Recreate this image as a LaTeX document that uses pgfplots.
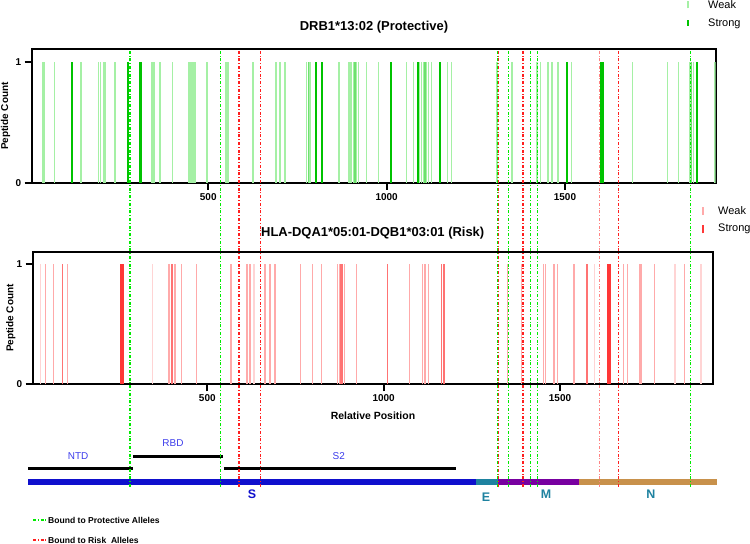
\documentclass[border=0pt]{standalone}
\usepackage{fontspec}
\setmainfont{Liberation Sans}
\usepackage{pgfplots}
\pgfplotsset{compat=1.18}
\definecolor{gweak}{RGB}{165,240,165}
\definecolor{gmid}{RGB}{110,225,110}
\definecolor{gstrong}{RGB}{0,195,0}
\definecolor{rfaint}{RGB}{255,212,212}
\definecolor{rweak}{RGB}{255,170,170}
\definecolor{rmid}{RGB}{255,115,115}
\definecolor{rstrong}{RGB}{255,55,55}
\definecolor{dashgreen}{RGB}{0,235,0}
\definecolor{dashred}{RGB}{255,30,30}
\definecolor{sblue}{RGB}{15,15,205}
\definecolor{eteal}{RGB}{30,130,160}
\definecolor{mpurple}{RGB}{120,0,160}
\definecolor{ntan}{RGB}{200,145,75}
\definecolor{lblblue}{RGB}{60,60,235}
\tikzset{
  pdash/.style={dashgreen, line width=1.5bp, dash pattern=on 3bp off 1.8bp on 1bp off 1.8bp},
  rdash/.style={dashred, line width=1.5bp, dash pattern=on 3bp off 1.8bp on 1bp off 1.8bp}
}
\pgfplotsset{
  panel/.style={scale only axis, anchor=south west, ymin=0,
    xtick={500,1000,1500}, ytick={0,1}, tick pos=left, tick align=outside,
    major tick length=7bp, tick style={black, line width=2bp},
    axis line style={line width=1.8bp},
    ticklabel style={font=\bfseries\fontsize{10}{12}\selectfont},
    /pgf/number format/assume math mode=true, /pgf/number format/1000 sep={},
    ylabel={Peptide Count},
    ylabel style={font=\bfseries\fontsize{10}{12}\selectfont, anchor=center},
    title style={font=\bfseries\fontsize{13}{15}\selectfont, anchor=center}}
}
\begin{document}
\begin{tikzpicture}
\useasboundingbox (0bp,0bp) rectangle (750bp,544bp);
% ---------------- top panel
\begin{axis}[panel, at={(31.7bp,361bp)}, width=684bp, height=133.7bp,
  xmin=5, xmax=1922.6, ymax=1.105,
  title={DRB1*13:02 (Protective)},
  title style={at={(axis description cs:0.5004,1.12)}},
  ylabel style={at={(axis description cs:-0.0383,0.5)}}]
\addplot[ycomb, gweak, line width=1.5bp] coordinates {
(35,1)(39,1)(68.5,1)(142,1)(145,1)(192,1)(198,1)(206,1)(211,1)(239,1)(274,1)
(341,1)(344,1)(348,1)(365,1)(400,1)(444,1)(449,1)(454,1)(458,1)(463,1)(496,1)
(550,1)(556,1)(626,1)(690,1)(701,1)(715,1)(776,1)(785,1)(867,1)(893,1)(897,1)
(902,1)(907,1)(916,1)(921,1)(944,1)(977,1)(1056,1)(1075,1)(1092,1)(1098,1)
(1105,1)(1112,1)(1117,1)(1126,1)(1171,1)(1182,1)(1309,1)(1351,1)(1422,1)
(1432,1)(1453,1)(1463,1)(1480,1)(1519,1)(1689,1)(1788,1)(1818,1)(1851,1)
(1860,1)(1921,1)};
\addplot[ycomb, gmid, line width=1.5bp] coordinates {
(781,1)(911,1)(1108,1)(1855,1)};
\addplot[ycomb, gstrong, line width=2bp] coordinates {
(118,1)(276,1)(309,1)(312,1)(802,1)(818,1)(1012,1)(1087,1)(1150,1)(1507,1)
(1600,1)(1603,1)(1606,1)(1871,1)};
\end{axis}
% ---------------- bottom panel
\begin{axis}[panel, at={(32.7bp,159.7bp)}, width=680.6bp, height=132.6bp,
  xmin=5, xmax=1934.6, ymax=1.102,
  title={HLA-DQA1*05:01-DQB1*03:01 (Risk)},
  title style={at={(axis description cs:0.4996,1.097)}},
  ylabel style={at={(axis description cs:-0.032,0.5)}},
  xlabel={Relative Position},
  xlabel style={font=\bfseries\fontsize{10.5}{12}\selectfont, at={(axis description cs:0.5,-0.239)}, anchor=center}]
\addplot[ycomb, rfaint, line width=1.5bp] coordinates {
(27.6,1)(345.2,1)(632.5,1)(1597.3,1)(1826,1)(1899.7,1)};
\addplot[ycomb, rweak, line width=1.5bp] coordinates {
(41.8,1)(64.5,1)(104.2,1)(391.4,1)(408.4,1)(427.4,1)(470,1)(567.3,1)
(612.6,1)(621.1,1)(663.7,1)(677.8,1)(692,1)(764.8,1)(797.7,1)(824.3,1)
(869.7,1)(874.2,1)(888.4,1)(923.6,1)(1072.7,1)(1110.7,1)(1117.2,1)(1126.6,1)
(1351.7,1)(1391.4,1)(1452.6,1)(1459.5,1)(1483,1)(1493.5,1)(1539.7,1)
(1679.5,1)(1690.8,1)(1726.8,1)(1731.6,1)(1767.4,1)(1852.4,1)};
\addplot[ycomb, rmid, line width=1.5bp] coordinates {
(88.9,1)(399.9,1)(879,1)(883.9,1)(1010.3,1)(1164.6,1)(1171,1)(1575.7,1)(1578.6,1)};
\addplot[ycomb, rstrong, line width=2bp] coordinates {
(255.3,1)(258,1)(260.1,1)(1637,1)(1640,1)(1642.6,1)};
\end{axis}
% ---------------- domain map, dashed lines, legends
\begin{axis}[scale only axis, anchor=south west, at={(31.7bp,44bp)}, width=684bp, height=450.7bp,
  xmin=5, xmax=1922.6, ymin=0, ymax=450.7, axis lines=none, clip=false]
\addplot[fill=sblue, draw=none] coordinates {(-5.3,14.7)(1250.6,14.7)(1250.6,21)(-5.3,21)} --cycle;
\addplot[fill=eteal, draw=none] coordinates {(1250.6,14.7)(1312.3,14.7)(1312.3,21)(1250.6,21)} --cycle;
\addplot[fill=mpurple, draw=none] coordinates {(1312.3,14.7)(1539.4,14.7)(1539.4,21)(1312.3,21)} --cycle;
\addplot[fill=ntan, draw=none] coordinates {(1539.4,14.7)(1926.3,14.7)(1926.3,21)(1539.4,21)} --cycle;
\addplot[black, line width=3bp] coordinates {(-5.3,31)(289,31)};
\addplot[black, line width=3bp] coordinates {(289,43)(541.4,43)};
\addplot[black, line width=3bp] coordinates {(544,31)(1194.6,31)};
\node[text=lblblue, font=\fontsize{10}{12}\selectfont] at (axis cs:135,44) {NTD};
\node[text=lblblue, font=\fontsize{10}{12}\selectfont] at (axis cs:401,57) {RBD};
\node[text=lblblue, font=\fontsize{10}{12}\selectfont] at (axis cs:866,44) {S2};
\node[text=sblue, font=\bfseries\fontsize{12.5}{14}\selectfont] at (axis cs:623,5.5) {S};
\node[text=eteal, font=\bfseries\fontsize{12.5}{14}\selectfont] at (axis cs:1279,2.3) {E};
\node[text=eteal, font=\bfseries\fontsize{12.5}{14}\selectfont] at (axis cs:1447,6) {M};
\node[text=eteal, font=\bfseries\fontsize{12.5}{14}\selectfont] at (axis cs:1741,6) {N};
% dashed epitope lines
\addplot[pdash] coordinates {(280.3,13)(280.3,450.7)};
\addplot[pdash] coordinates {(533.8,13)(533.8,450.7)};
\addplot[pdash] coordinates {(1311.5,13)(1311.5,450.7)};
\addplot[pdash, line width=1bp] coordinates {(1343,13)(1343,450.7)};
\addplot[pdash, line width=1bp] coordinates {(1403,13)(1403,450.7)};
\addplot[pdash] coordinates {(1422.8,13)(1422.8,450.7)};
\addplot[pdash] coordinates {(1851.4,13)(1851.4,450.7)};
\addplot[rdash] coordinates {(586.2,13)(586.2,450.7)};
\addplot[rdash] coordinates {(647,13)(647,450.7)};
\addplot[rdash, line width=0.9bp] coordinates {(1313.5,13)(1313.5,450.7)};
\addplot[rdash] coordinates {(1382.3,13)(1382.3,450.7)};
\addplot[rdash, dashred!55, line width=1bp] coordinates {(1596.3,13)(1596.3,450.7)};
\addplot[rdash] coordinates {(1649.6,13)(1649.6,450.7)};
% bottom-left legend
\draw[pdash] (axis cs:8.7,-20) -- (axis cs:48,-20);
\node[anchor=west, inner sep=0pt, font=\bfseries\fontsize{8.6}{10}\selectfont] at (axis cs:50.7,-20) {Bound to Protective Alleles};
\draw[rdash] (axis cs:8.7,-40) -- (axis cs:48,-40);
\node[anchor=west, inner sep=0pt, font=\bfseries\fontsize{8.6}{10}\selectfont] at (axis cs:50.7,-40) {Bound to Risk\ \ Alleles};
% top-right legends
\draw[gweak, line width=1.5bp] (axis cs:1845.2,491.5) -- (axis cs:1845.2,499);
\draw[gstrong, line width=2.5bp] (axis cs:1845.2,474) -- (axis cs:1845.2,480);
\node[anchor=west, inner sep=0pt, font=\fontsize{11}{13}\selectfont] at (axis cs:1901,495) {Weak};
\node[anchor=west, inner sep=0pt, font=\fontsize{11}{13}\selectfont] at (axis cs:1901,476.3) {Strong};
\draw[rfaint!80!red, line width=1.5bp] (axis cs:1887,285) -- (axis cs:1887,292.7);
\draw[rstrong, line width=2.5bp] (axis cs:1887,266.7) -- (axis cs:1887,275);
\node[anchor=west, inner sep=0pt, font=\fontsize{11}{13}\selectfont] at (axis cs:1929,289.3) {Weak};
\node[anchor=west, inner sep=0pt, font=\fontsize{11}{13}\selectfont] at (axis cs:1929,271) {Strong};
\end{axis}
\end{tikzpicture}
\end{document}
